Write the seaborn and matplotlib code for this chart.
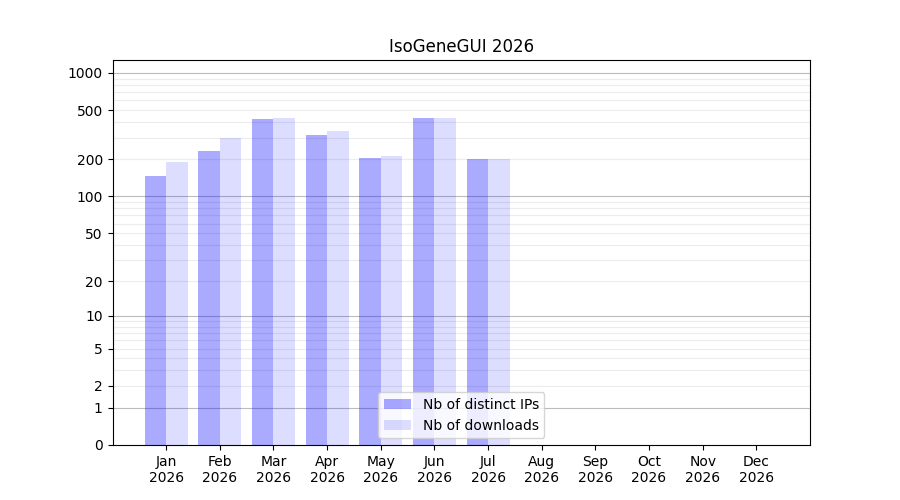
import numpy as np
import pandas as pd
import matplotlib
matplotlib.use("Agg")
import matplotlib.pyplot as plt
import seaborn as sns

# monthly stats (no data after July)
months = ["Jan", "Feb", "Mar", "Apr", "May", "Jun", "Jul",
          "Aug", "Sep", "Oct", "Nov", "Dec"]
year = "2026"
distinct_ips = [147, 234, 428, 315, 205, 433, 202,
                np.nan, np.nan, np.nan, np.nan, np.nan]
downloads = [191, 300, 436, 340, 213, 433, 202,
             np.nan, np.nan, np.nan, np.nan, np.nan]
series_names = ["Nb of distinct IPs", "Nb of downloads"]
ytick_values = [0, 1, 2, 5, 10, 20, 50, 100, 200, 500, 1000]

labels = [f"{m}\n{year}" for m in months]
df = pd.DataFrame({
    "month": labels * 2,
    "count": distinct_ips + downloads,
    "series": [series_names[0]] * 12 + [series_names[1]] * 12,
})

fig, ax = plt.subplots(figsize=(9, 5), dpi=100)

# log(1+x) scale so that zero months still fit on the axis
ax.set_yscale("function", functions=(lambda v: np.log10(1 + np.maximum(v, 0)),
                                     lambda v: 10 ** v - 1))

# grid: decades darker, in-between values lighter
for d in [1, 10, 100, 1000]:
    ax.axhline(d, color="#bcbcbc", lw=0.8, zorder=0)
    if d < 1000:
        for k in range(2, 10):
            ax.axhline(k * d, color="#ececec", lw=0.8, zorder=0)

sns.barplot(data=df, x="month", y="count", hue="series", order=labels,
            hue_order=series_names, palette=["blue", "blue"], saturation=1,
            width=0.8, errorbar=None, ax=ax, zorder=2)

for cont, a in zip(ax.containers, [0.333, 0.135]):
    for p in cont:
        p.set_alpha(a)
        p.set_edgecolor("none")

ax.set_ylim(0, 1272)
ax.set_xlim(-1, 12)
ax.set_yticks(ytick_values)
ax.set_yticklabels([str(v) for v in ytick_values])
ax.yaxis.set_minor_locator(matplotlib.ticker.NullLocator())
ax.set_xlabel("")
ax.set_ylabel("")
ax.set_title(f"IsoGeneGUI {year}")

ax.legend(handles=list(ax.containers), labels=series_names, loc="lower center")

fig.savefig("out.png", dpi=100)
